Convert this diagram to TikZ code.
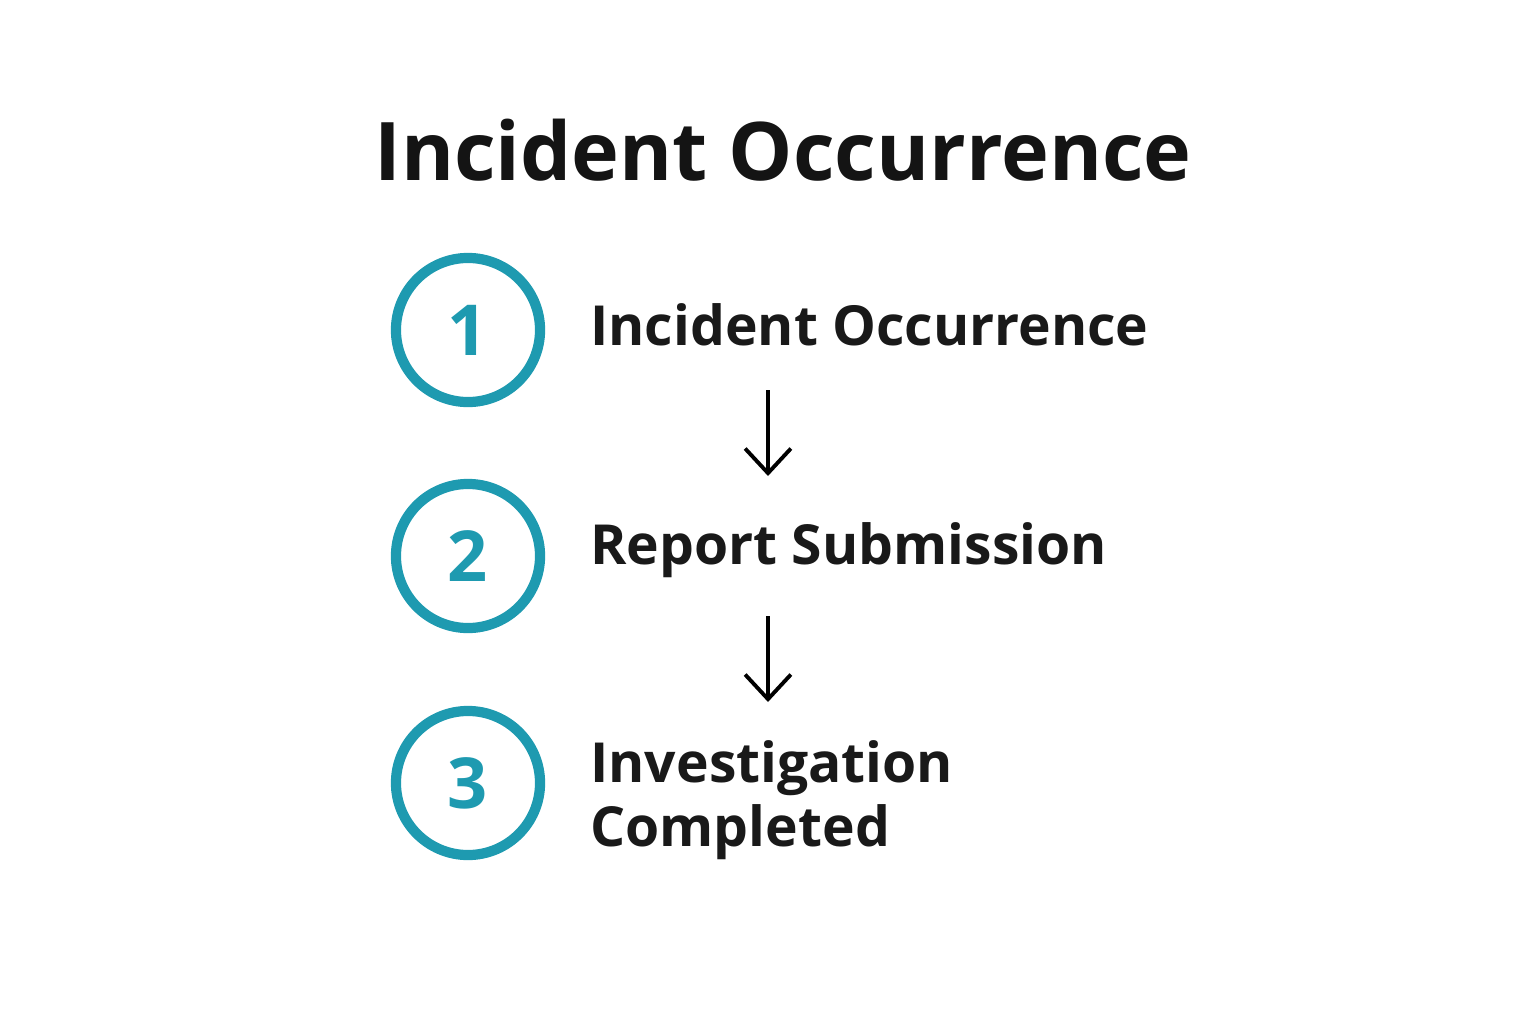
\documentclass[tikz,border=0pt]{standalone}
\usepackage{fontspec}
\setmainfont{Open Sans}
\usetikzlibrary{positioning,arrows.meta}
\definecolor{stepteal}{HTML}{1E9AB0}
\tikzset{
  stepcircle/.style={circle, draw=stepteal, line width=2.9pt, minimum size=1.44cm,
    text=stepteal, font=\fontsize{20}{20}\selectfont\bfseries},
  steplabel/.style={anchor=west, align=left, text=black!90,
    font=\fontsize{15.7}{18.2}\selectfont\bfseries},
  flowarrow/.style={line width=1.1pt, -{Straight Barb[length=7pt,width=13pt]}}
}
\begin{document}
\begin{tikzpicture}[x=0.01cm, y=-0.01cm]
  \useasboundingbox (0,0) rectangle (1536,1024);

  \node[font=\fontsize{23}{28}\selectfont\bfseries, text=black!92] (title) at (783,150) {Incident Occurrence};

  \node[stepcircle] (c1) at (468,330) {1};
  \node[stepcircle] (c2) at (468,556) {2};
  \node[stepcircle] (c3) at (468,783) {3};

  \node[steplabel] (t1) at (578,325) {Incident Occurrence};
  \node[steplabel] (t2) at (578,550) {Report Submission};
  \node[steplabel] (t3) at (578,800) {Investigation\\Completed};

  \coordinate (a1s) at (768,390);
  \coordinate (a1e) at (768,476);
  \coordinate (a2s) at (768,616);
  \coordinate (a2e) at (768,702);
  \draw[flowarrow] (a1s) -- (a1e);
  \draw[flowarrow] (a2s) -- (a2e);
\end{tikzpicture}
\end{document}
